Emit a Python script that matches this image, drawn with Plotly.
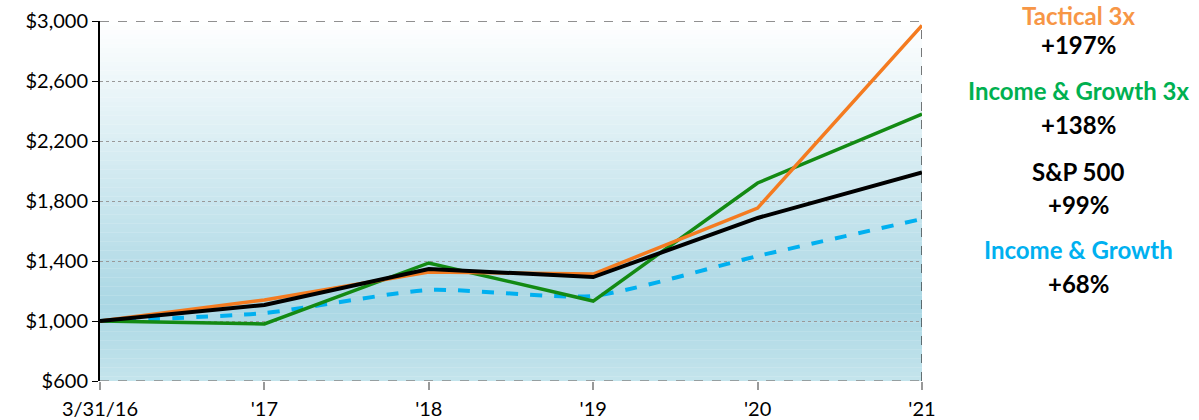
import plotly.graph_objects as go

x_labels = ["3/31/16", "'17", "'18", "'19", "'20", "'21"]
tactical_3x = [1000, 1140, 1327, 1313, 1753, 2970]
income_growth_3x = [1000, 980, 1387, 1133, 1920, 2380]
sp500 = [1000, 1107, 1347, 1293, 1687, 1990]
income_growth = [1000, 1053, 1207, 1167, 1433, 1680]
y_ticks = [600, 1000, 1400, 1800, 2200, 2600, 3000]
y_tick_labels = ["$600", "$1,000", "$1,400", "$1,800", "$2,200", "$2,600", "$3,000"]

legend_items = [
    ("Tactical 3x", "+197%", "#F79646"),
    ("Income & Growth 3x", "+138%", "#00B050"),
    ("S&P 500", "+99%", "#000000"),
    ("Income & Growth", "+68%", "#00B0F0"),
]

xs = list(range(len(x_labels)))
FONT = "Lato, 'Open Sans', sans-serif"

fig = go.Figure()

def lerp(c1, c2, t):
    return tuple(int(round(a + (b - a) * t)) for a, b in zip(c1, c2))

top = (255, 255, 255)
mid = (170, 215, 228)
bot = (196, 228, 236)
ymin, ymax = 600, 3000
mid_v = 1100
n = 80
shapes = []
for i in range(n):
    y0 = ymin + (ymax - ymin) * i / n
    y1 = ymin + (ymax - ymin) * (i + 1) / n
    yc = (y0 + y1) / 2
    if yc >= mid_v:
        c = lerp(mid, top, (yc - mid_v) / (ymax - mid_v))
    else:
        c = lerp(bot, mid, (yc - ymin) / (mid_v - ymin))
    shapes.append(dict(type="rect", xref="x", yref="y", x0=0, x1=5, y0=y0, y1=y1 + 1,
                       fillcolor="rgb(%d,%d,%d)" % c, line=dict(width=0), layer="below"))

shapes.append(dict(type="line", xref="x", yref="y", x0=0, x1=5, y0=3000, y1=3000,
                   line=dict(color="#222222", width=1.2, dash="dash"), layer="above"))
shapes.append(dict(type="line", xref="x", yref="y", x0=5, x1=5, y0=600, y1=3000,
                   line=dict(color="#222222", width=1.2, dash="dash"), layer="above"))
shapes.append(dict(type="line", xref="x", yref="y", x0=0, x1=5, y0=600, y1=600,
                   line=dict(color="#888888", width=1.5, dash="dash"), layer="above"))

fig.add_trace(go.Scatter(x=xs, y=income_growth, mode="lines", name="Income & Growth",
                         line=dict(color="#00B0F0", width=4, dash="dash", shape="spline", smoothing=0.6)))
fig.add_trace(go.Scatter(x=xs, y=income_growth_3x, mode="lines", name="Income & Growth 3x",
                         line=dict(color="#138A13", width=3.5)))
fig.add_trace(go.Scatter(x=xs, y=tactical_3x, mode="lines", name="Tactical 3x",
                         line=dict(color="#F47B20", width=3.5)))
fig.add_trace(go.Scatter(x=xs, y=sp500, mode="lines", name="S&P 500",
                         line=dict(color="#000000", width=4)))

L, R, T, B = 100, 277, 21, 39
W, H = 1199, 420
pw, ph = W - L - R, H - T - B

annotations = []
ys_name = [0, 91, 171, 249]
ys_pct = [45, 124, 204, 283]
for i, ((name, pct, col), yn, yp) in enumerate(zip(legend_items, ys_name, ys_pct)):
    for txt, c, py, anchor in (("<b>%s</b>" % name, col, yn, "top" if i == 0 else "middle"),
                               ("<b>%s</b>" % pct, "#000000", yp, "middle")):
        annotations.append(dict(text=txt, x=(1078 - L) / pw, y=1 - (py - T) / ph,
                                xref="paper", yref="paper", xanchor="center", yanchor=anchor,
                                borderpad=0,
                                showarrow=False, font=dict(color=c, size=24, family=FONT)))

fig.update_layout(
    width=W, height=H,
    margin=dict(l=L, r=R, t=T, b=B),
    paper_bgcolor="white", plot_bgcolor="white",
    showlegend=False,
    shapes=shapes,
    annotations=annotations,
    font=dict(family=FONT, size=20, color="#000000"),
    xaxis=dict(range=[0, 5], tickvals=xs, ticktext=x_labels, showgrid=False, zeroline=False,
               ticks="outside", ticklen=8, tickcolor="#999999", tickwidth=1.5,
               showline=False, tickfont=dict(size=20, family=FONT), ticklabelstandoff=2,
               automargin=False),
    yaxis=dict(range=[600, 3000], tickvals=y_ticks, ticktext=y_tick_labels,
               showgrid=True, gridcolor="#999999", griddash="dot", gridwidth=1,
               zeroline=False, showline=True, linecolor="#000000", linewidth=2,
               ticks="outside", ticklen=6, tickcolor="#000000",
               tickfont=dict(size=20, family=FONT), automargin=False),
)

fig.write_html("out.html", config={"displayModeBar": False},
               post_script="document.body.style.margin='0';document.body.style.padding='0';")
